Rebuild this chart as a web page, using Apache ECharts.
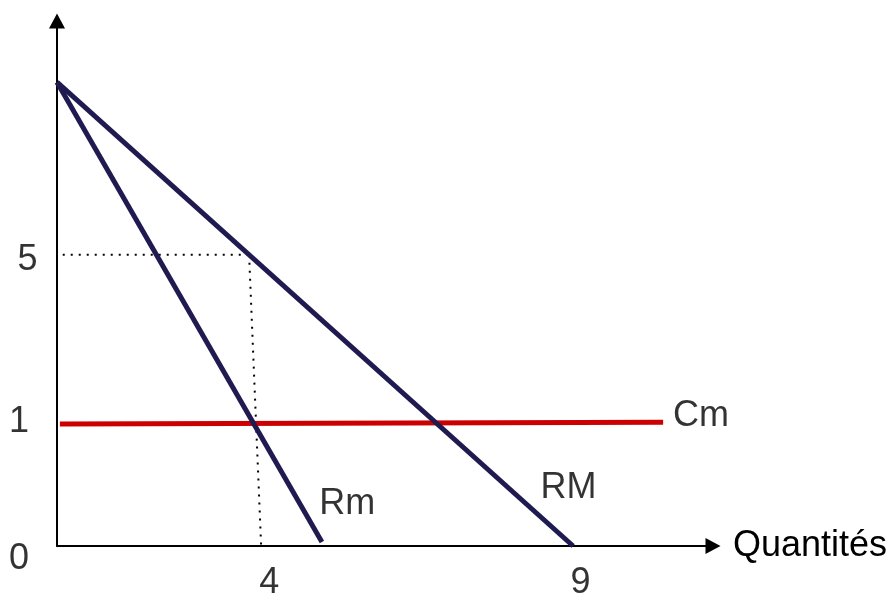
<!DOCTYPE html>
<html>
<head>
<meta charset="utf-8">
<script src="https://cdn.jsdelivr.net/npm/echarts@6/dist/echarts.min.js"></script>
<style>
html,body{margin:0;padding:0;background:#fff;}
#chart{width:896px;height:599px;}
</style>
</head>
<body>
<div id="chart"></div>
<script>
// Schematic monopoly diagram (values in diagram units)
const lineRM = [[0, 8.09], [9, 0]];            // recette moyenne
const lineRm = [[0, 8.09], [4.62, 0.07]];      // recette marginale
const lineCm = [[0.05, 2.13], [10.57, 2.16]];  // coût marginal
const dotPrice = [[0.1, 5.08], [3.35, 5.08]];
const dotQty = [[3.35, 5.08], [3.56, 0]];

const tickTexts = ['0', '1', '5', '4', '9'];
const tickAnchors = [[-0.663, -0.227], [-0.663, 2.17], [-0.515, 4.99], [3.70, -0.654], [9.13, -0.654]];
const curveNames = ['Rm', 'RM', 'Cm'];
const curveAnchors = [[5.06, 0.733], [8.92, 1.01], [11.23, 2.27]];
const xAxisName = 'Quantités';

const NAVY = '#1f1a4f';
const RED = '#cc0000';
const FONT = 'Liberation Sans, Arial, sans-serif';

const chart = echarts.init(document.getElementById('chart'), null, {renderer: 'canvas'});

const textSeries = (texts, anchors) => ({
  type: 'scatter',
  symbolSize: 0,
  clip: false,
  silent: true,
  z: 5,
  data: texts.map((t, i) => ({name: t, value: anchors[i]})),
  label: {
    show: true, position: 'inside', formatter: p => p.name,
    color: '#000', fontSize: 36, fontFamily: FONT,
    align: 'center', verticalAlign: 'middle'
  }
});

const lineSeries = (data, color, width, type) => ({
  type: 'line', data, symbol: 'none', silent: true, clip: false,
  lineStyle: {color, width, type: type || 'solid', cap: 'butt'}
});

chart.setOption({
  animation: false,
  backgroundColor: '#fff',
  grid: {left: 57, top: 21, right: 183, bottom: 53, containLabel: false},
  xAxis: {
    type: 'value', min: 0, max: 11.44,
    name: xAxisName, nameLocation: 'end', nameGap: 20,
    nameTextStyle: {color: '#000', fontSize: 36, fontFamily: FONT, verticalAlign: 'middle'},
    axisLine: {show: true, symbol: ['none', 'triangle'], symbolSize: [16, 15], lineStyle: {color: '#000', width: 2}},
    axisTick: {show: false}, axisLabel: {show: false}, splitLine: {show: false}
  },
  yAxis: {
    type: 'value', min: 0, max: 9.157,
    axisLine: {show: true, symbol: ['none', 'triangle'], symbolSize: [16, 15], lineStyle: {color: '#000', width: 2}},
    axisTick: {show: false}, axisLabel: {show: false}, splitLine: {show: false}
  },
  series: [
    Object.assign(lineSeries(dotPrice, '#000', 2, [2, 6]), {z: 1}),
    Object.assign(lineSeries(dotQty, '#000', 2, [2, 6]), {z: 1}),
    Object.assign(lineSeries(lineCm, RED, 5), {z: 2}),
    Object.assign(lineSeries(lineRm, NAVY, 5), {z: 3}),
    Object.assign(lineSeries(lineRM, NAVY, 5), {z: 3}),
    textSeries(tickTexts, tickAnchors),
    textSeries(curveNames, curveAnchors)
  ]
});
</script>
</body>
</html>
